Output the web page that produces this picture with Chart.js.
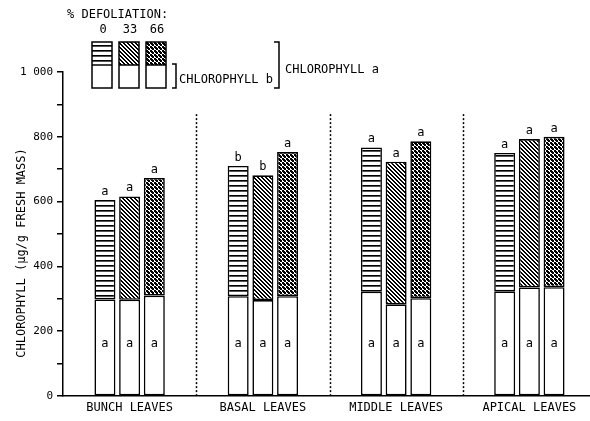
<!DOCTYPE html>
<html><head><meta charset="utf-8">
<script src="https://cdn.jsdelivr.net/npm/chart.js@4"></script>
<style>html,body{margin:0;padding:0;overflow:hidden;background:#fff}#wrap{width:600px;height:421px;position:relative}</style>
</head><body><div id="wrap"><canvas id="c"></canvas></div>
<script>
// ---- data ----
const categories = ['BUNCH LEAVES', 'BASAL LEAVES', 'MIDDLE LEAVES', 'APICAL LEAVES'];
const defoliation = ['0', '33', '66'];
// chlorophyll b (lower, white part of each bar)
const chlB0  = [298, 308, 322, 323];
const chlB33 = [297, 296, 283, 335];
const chlB66 = [310, 308, 302, 336];
// top of each bar (total chlorophyll)
const total0  = [605, 710, 767, 750];
const total33 = [616, 681, 723, 793];
const total66 = [673, 753, 786, 800];
// significance letters
const topLetters0  = ['a', 'b', 'a', 'a'];
const topLetters33 = ['a', 'b', 'a', 'a'];
const topLetters66 = ['a', 'a', 'a', 'a'];
const lowLetters0  = ['a', 'a', 'a', 'a'];
const lowLetters33 = ['a', 'a', 'a', 'a'];
const lowLetters66 = ['a', 'a', 'a', 'a'];
const yTickValues = [0, 200, 400, 600, 800, 1000];
const yTickLabels = ['0', '200', '400', '600', '800', '1 000'];
const yTitle = 'CHLOROPHYLL (\u00B5g/g FRESH MASS)';
const legendTitle = '% DEFOLIATION:';
const legendChlB = 'CHLOROPHYLL b';
const legendChlA = 'CHLOROPHYLL a';

const FONT = '"DejaVu Sans Mono", monospace';
const ctx0 = document.getElementById('c').getContext('2d');

function makePattern(kind) {
  const s = kind === 'h' ? 5 : 4;
  const c = document.createElement('canvas'); c.width = s; c.height = s;
  const g = c.getContext('2d');
  g.fillStyle = '#fff'; g.fillRect(0, 0, s, s);
  g.fillStyle = '#000';
  if (kind === 'h') {
    g.fillRect(0, 0, s, 1);
    g.fillStyle = '#555'; g.fillRect(0, 1, s, 1);
  } else if (kind === 'd') {
    for (let y = 0; y < s; y++) { g.fillRect(y, y, 1, 1); g.fillRect((y + 1) % s, y, 1, 1); }
  } else {
    g.fillRect(0, 0, 2, 2); g.fillRect(2, 2, 2, 2);
    g.fillRect(3, 0, 1, 1); g.fillRect(0, 3, 1, 1);
  }
  return ctx0.createPattern(c, 'repeat');
}
const patterns = [makePattern('h'), makePattern('d'), makePattern('x')];

const chlB = [chlB0, chlB33, chlB66];
const totals = [total0, total33, total66];
const topLetters = [topLetters0, topLetters33, topLetters66];
const lowLetters = [lowLetters0, lowLetters33, lowLetters66];

const datasets = [];
defoliation.forEach((d, k) => {
  datasets.push({
    label: 'Chl b ' + d, stack: 's' + k,
    data: chlB[k].slice(),
    backgroundColor: '#fff', borderColor: '#000', borderWidth: 1.6, borderSkipped: false
  });
  datasets.push({
    label: 'Chl a ' + d, stack: 's' + k,
    data: chlB[k].map((b, i) => [b, totals[k][i]]),
    backgroundColor: patterns[k], borderColor: '#000', borderWidth: 1.6, borderSkipped: false
  });
});

const drawPlugin = {
  id: 'extras',
  beforeDatasetsDraw(chart) {
    const { ctx, scales: { x, y } } = chart;
    ctx.save();
    ctx.strokeStyle = '#000'; ctx.lineWidth = 1.5; ctx.setLineDash([2, 2]);
    for (let i = 0; i < categories.length - 1; i++) {
      const px = Math.round((x.getPixelForValue(i) + x.getPixelForValue(i + 1)) / 2) + 0.5;
      ctx.beginPath(); ctx.moveTo(px, y.getPixelForValue(870)); ctx.lineTo(px, y.getPixelForValue(0)); ctx.stroke();
    }
    ctx.restore();
  },
  afterDatasetsDraw(chart) {
    const { ctx, scales: { y } } = chart;
    ctx.save();
    ctx.fillStyle = '#000'; ctx.font = '12px ' + FONT; ctx.textAlign = 'center'; ctx.textBaseline = 'alphabetic';
    defoliation.forEach((d, k) => {
      const meta = chart.getDatasetMeta(2 * k + 1);
      meta.data.forEach((el, i) => {
        ctx.fillText(topLetters[k][i], el.x, y.getPixelForValue(totals[k][i]) - 5);
        ctx.fillText(lowLetters[k][i], el.x, y.getPixelForValue(165) + 4);
      });
    });
    // y title
    ctx.save();
    ctx.translate(22, 253); ctx.rotate(-Math.PI / 2);
    ctx.textBaseline = 'middle';
    ctx.fillText(yTitle, 0, 0);
    ctx.restore();
    // legend
    ctx.textAlign = 'left'; ctx.textBaseline = 'middle';
    ctx.fillText(legendTitle, 67, 15);
    ctx.textAlign = 'center';
    const bx = [92, 119, 146], bw = 20, top = 42, mid = 65, bot = 88;
    defoliation.forEach((d, k) => {
      ctx.fillText(d, bx[k] + bw / 2 + 1, 30);
      ctx.fillStyle = patterns[k]; ctx.fillRect(bx[k], top, bw, mid - top);
      ctx.fillStyle = '#fff'; ctx.fillRect(bx[k], mid, bw, bot - mid);
      ctx.strokeStyle = '#000'; ctx.lineWidth = 1.5;
      ctx.strokeRect(bx[k], top, bw, bot - top);
      ctx.beginPath(); ctx.moveTo(bx[k], mid); ctx.lineTo(bx[k] + bw, mid); ctx.stroke();
      ctx.fillStyle = '#000';
    });
    ctx.lineWidth = 1.5;
    ctx.beginPath(); ctx.moveTo(172, 64); ctx.lineTo(176, 64); ctx.lineTo(176, 88); ctx.lineTo(172, 88); ctx.stroke();
    ctx.beginPath(); ctx.moveTo(274, 42); ctx.lineTo(279, 42); ctx.lineTo(279, 88); ctx.lineTo(274, 88); ctx.stroke();
    ctx.textAlign = 'left';
    ctx.fillText(legendChlB, 179, 80);
    ctx.fillText(legendChlA, 285, 70);
    ctx.restore();
  }
};

new Chart(document.getElementById('c'), {
  type: 'bar',
  data: { labels: categories, datasets },
  options: {
    responsive: true, maintainAspectRatio: false, animation: false,
    layout: { padding: { top: 72, right: 4, left: 0, bottom: 0 } },
    plugins: { legend: { display: false }, tooltip: { enabled: false } },
    datasets: { bar: { categoryPercentage: 0.556, barPercentage: 0.85, grouped: true } },
    scales: {
      x: {
        grid: { display: false, drawTicks: false },
        border: { display: true, color: '#000', width: 1.5 },
        ticks: { color: '#000', font: { family: FONT, size: 12 }, padding: 5, maxRotation: 0 },
        afterFit(s) { s.height = 25; }
      },
      y: {
        min: 0, max: 1000, stacked: false,
        grid: { drawOnChartArea: false, drawTicks: true, tickLength: 6, color: '#000', lineWidth: 1.5 },
        border: { display: true, color: '#000', width: 1.5 },
        ticks: {
          stepSize: 100, color: '#000', font: { family: FONT, size: 11 }, padding: 4,
          callback(v) { const i = yTickValues.indexOf(v); return i >= 0 ? yTickLabels[i] : ''; }
        },
        afterFit(s) { s.width = 63; }
      }
    }
  },
  plugins: [drawPlugin]
});
</script>
</body></html>
